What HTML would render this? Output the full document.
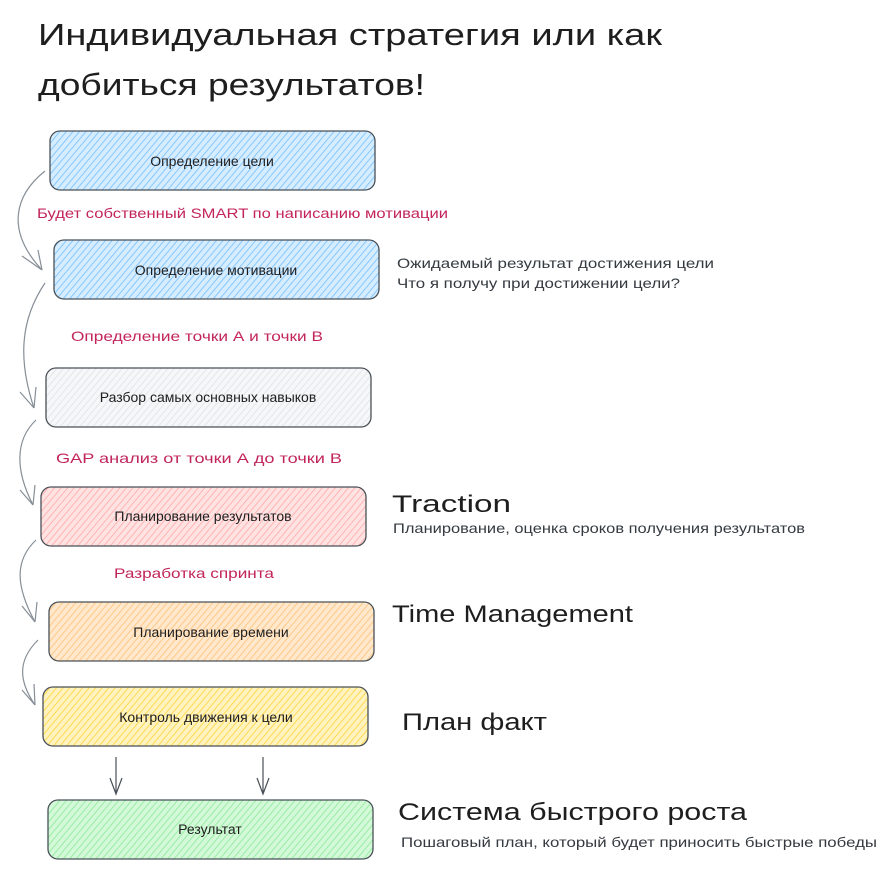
<!DOCTYPE html>
<html><head><meta charset="utf-8"><style>
html,body{margin:0;padding:0;background:#fff;}
svg{display:block}
text{font-family:"Liberation Sans","Noto Sans CJK SC",sans-serif;}
</style></head><body>
<svg width="888" height="869" viewBox="0 0 888 869" xmlns="http://www.w3.org/2000/svg">
<defs>
<pattern id="hb" width="5" height="5" patternUnits="userSpaceOnUse" patternTransform="rotate(40)"><rect width="5" height="5" fill="#d6ecff"/><line x1="0" y1="0" x2="0" y2="5" stroke="#74c0fc" stroke-width="1.6"/></pattern>
<pattern id="hg" width="5" height="5" patternUnits="userSpaceOnUse" patternTransform="rotate(40)"><rect width="5" height="5" fill="#f6f7f8"/><line x1="0" y1="0" x2="0" y2="5" stroke="#dee2e6" stroke-width="1.6"/></pattern>
<pattern id="hr" width="5" height="5" patternUnits="userSpaceOnUse" patternTransform="rotate(40)"><rect width="5" height="5" fill="#ffe3e3"/><line x1="0" y1="0" x2="0" y2="5" stroke="#ffa8a8" stroke-width="1.6"/></pattern>
<pattern id="ho" width="5" height="5" patternUnits="userSpaceOnUse" patternTransform="rotate(40)"><rect width="5" height="5" fill="#ffe8cc"/><line x1="0" y1="0" x2="0" y2="5" stroke="#ffc078" stroke-width="1.6"/></pattern>
<pattern id="hy" width="5" height="5" patternUnits="userSpaceOnUse" patternTransform="rotate(40)"><rect width="5" height="5" fill="#fff3bf"/><line x1="0" y1="0" x2="0" y2="5" stroke="#ffd43b" stroke-width="1.6"/></pattern>
<pattern id="hgr" width="5" height="5" patternUnits="userSpaceOnUse" patternTransform="rotate(40)"><rect width="5" height="5" fill="#d3f9d8"/><line x1="0" y1="0" x2="0" y2="5" stroke="#8ce99a" stroke-width="1.6"/></pattern>
</defs>

<text x="38" y="45" font-size="31" fill="#1e1e1e" textLength="624" lengthAdjust="spacingAndGlyphs">Индивидуальная стратегия или как</text>
<text x="38" y="95" font-size="31" fill="#1e1e1e" textLength="387" lengthAdjust="spacingAndGlyphs">добиться результатов!</text>

<g stroke="#495057" stroke-width="1.3">
<rect x="50" y="131" width="325" height="59" rx="10" fill="url(#hb)"/>
<rect x="54" y="240" width="325" height="59" rx="10" fill="url(#hb)"/>
<rect x="46" y="368" width="325" height="59" rx="10" fill="url(#hg)"/>
<rect x="41" y="487" width="325" height="59" rx="10" fill="url(#hr)"/>
<rect x="49" y="602" width="325" height="59" rx="10" fill="url(#ho)"/>
<rect x="43" y="687" width="325" height="59" rx="10" fill="url(#hy)"/>
<rect x="48" y="800" width="325" height="59" rx="10" fill="url(#hgr)"/>
</g>

<g font-size="14" fill="#1e1e1e" text-anchor="middle">
<text x="212" y="166">Определение цели</text>
<text x="216" y="275">Определение мотивации</text>
<text x="208" y="402">Разбор самых основных навыков</text>
<text x="203" y="521">Планирование результатов</text>
<text x="211" y="637">Планирование времени</text>
<text x="206" y="722">Контроль движения к цели</text>
<text x="210" y="834">Результат</text>
</g>

<g font-size="14" fill="#c2255c">
<text x="37" y="218" textLength="411" lengthAdjust="spacingAndGlyphs">Будет собственный SMART по написанию мотивации</text>
<text x="71" y="341" textLength="252" lengthAdjust="spacingAndGlyphs">Определение точки А и точки В</text>
<text x="56" y="463" textLength="286" lengthAdjust="spacingAndGlyphs">GAP анализ от точки А до точки В</text>
<text x="114" y="578" textLength="160" lengthAdjust="spacingAndGlyphs">Разработка спринта</text>
</g>

<g font-size="14" fill="#343a40">
<text x="397" y="268" textLength="317" lengthAdjust="spacingAndGlyphs">Ожидаемый результат достижения цели</text>
<text x="397" y="288" textLength="283" lengthAdjust="spacingAndGlyphs">Что я получу при достижении цели?</text>
<text x="393" y="533" textLength="412" lengthAdjust="spacingAndGlyphs">Планирование, оценка сроков получения результатов</text>
<text x="401" y="847" textLength="476" lengthAdjust="spacingAndGlyphs">Пошаговый план, который будет приносить быстрые победы</text>
</g>
<g font-size="24" fill="#1e1e1e">
<text x="392" y="512" textLength="119" lengthAdjust="spacingAndGlyphs">Traction</text>
<text x="392" y="622" textLength="241" lengthAdjust="spacingAndGlyphs">Time Management</text>
<text x="402" y="730" textLength="145" lengthAdjust="spacingAndGlyphs">План факт</text>
<text x="398" y="820" textLength="349" lengthAdjust="spacingAndGlyphs">Система быстрого роста</text>
</g>

<g fill="none" stroke="#868e96" stroke-width="1.2">
<path d="M45 171 C15 195 5 230 42 270"/><path d="M42 270 L22 256 M42 270 L38 250"/>
<path d="M45 283 C20 320 18 360 34 408"/><path d="M34 408 L20 392 M34 408 L36 387"/>
<path d="M36 420 C15 440 15 470 33 505"/><path d="M33 505 L20 490 M33 505 L35 485"/>
<path d="M36 540 C15 560 15 585 35 622"/><path d="M35 622 L22 606 M35 622 L37 602"/>
<path d="M38 640 C18 660 18 680 35 705"/><path d="M35 705 L22 690 M35 705 L34 684"/>
</g>
<g fill="none" stroke="#495057" stroke-width="1.2">
<path d="M116 757 L116 794 M110 778 L116 794 L122 778"/>
<path d="M263 757 L263 794 M257 778 L263 794 L269 778"/>
</g>
</svg>
</body></html>
